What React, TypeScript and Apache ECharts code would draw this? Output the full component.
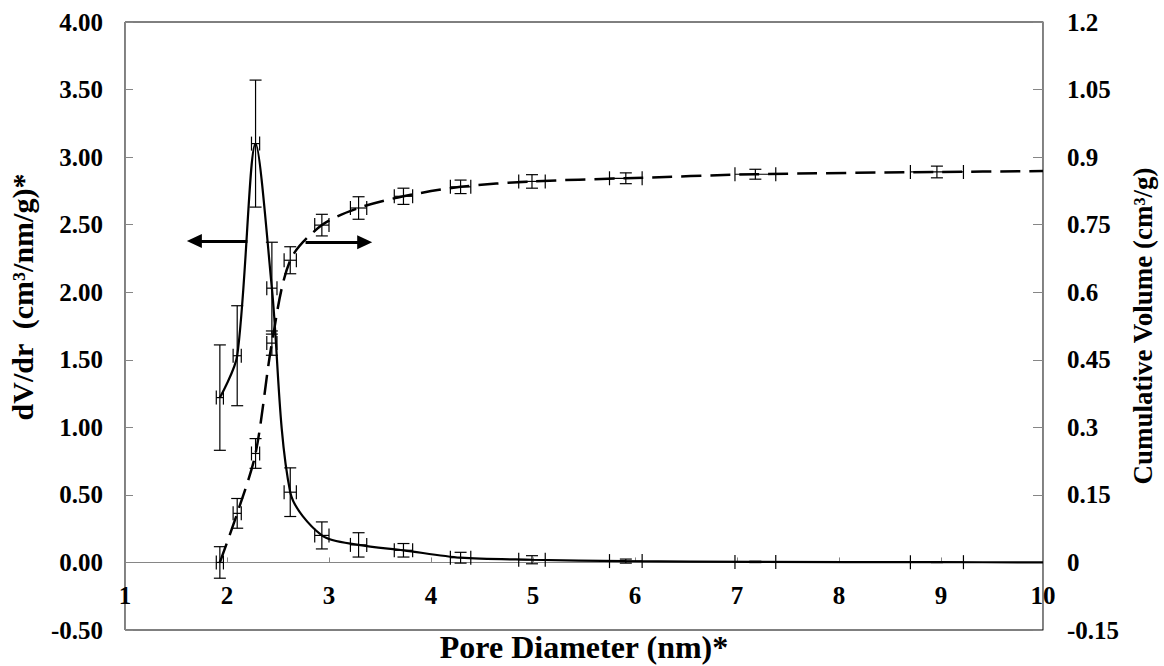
import React, { useEffect, useRef } from "react";
import * as echarts from "echarts";

// Pore diameter (nm) and its uncertainty
const poreDiameter = [1.93, 2.1, 2.28, 2.44, 2.62, 2.93, 3.29, 3.73, 4.29, 4.99, 5.91, 7.18, 8.96, 10.0];
const diameterErr = [0.035, 0.04, 0.04, 0.05, 0.06, 0.07, 0.08, 0.09, 0.1, 0.13, 0.16, 0.2, 0.26, 0];
// dV/dr (cm3/nm/g), left axis
const dvdr = [1.22, 1.53, 3.1, 2.03, 0.52, 0.2, 0.13, 0.09, 0.035, 0.02, 0.01, 0.004, 0.002, 0.001];
const dvdrErr = [0.39, 0.37, 0.47, 0.34, 0.18, 0.1, 0.09, 0.05, 0.04, 0.03, 0.015, 0.005, 0.003, 0];
// Cumulative volume (cm3/g), right axis
const cumVolume = [0.0, 0.109, 0.242, 0.487, 0.671, 0.749, 0.787, 0.813, 0.834, 0.846, 0.853, 0.862, 0.867, 0.869];
const cumVolumeErr = [0.035, 0.033, 0.033, 0.027, 0.03, 0.024, 0.025, 0.018, 0.015, 0.015, 0.012, 0.011, 0.013, 0];

// Annotation arrows (data space): [x from, x to, y]
const leftArrow = [2.2, 1.68, 2.38];
const rightArrow = [2.77, 3.35, 2.37];

const FONT = "Liberation Serif, Times New Roman, serif";
const GREY = "#868686";

function errRender(params: any, api: any) {
  const x = api.value(0);
  const y = api.value(1);
  const xe = api.value(2);
  const ye = api.value(3);
  if (!xe && !ye) return null;
  const top = api.coord([x, y + ye]);
  const bot = api.coord([x, y - ye]);
  const l = api.coord([x - xe, y]);
  const r = api.coord([x + xe, y]);
  const cw = 6;
  const ch = 7;
  const style = { stroke: "#000", lineWidth: 1.2 };
  const mk = (x1: number, y1: number, x2: number, y2: number) => ({
    type: "line",
    shape: { x1, y1, x2, y2 },
    style,
  });
  return {
    type: "group",
    children: [
      mk(top[0], top[1], bot[0], bot[1]),
      mk(top[0] - cw, top[1], top[0] + cw, top[1]),
      mk(bot[0] - cw, bot[1], bot[0] + cw, bot[1]),
      mk(l[0], l[1], r[0], r[1]),
      mk(l[0], l[1] - ch, l[0], l[1] + ch),
      mk(r[0], r[1] - ch, r[0], r[1] + ch),
    ],
  };
}

export default function App() {
  const ref = useRef<HTMLDivElement>(null);
  useEffect(() => {
    if (!ref.current) return;
    const chart = echarts.init(ref.current, undefined, { renderer: "svg" });
    const solidData = poreDiameter.map((x, i) => [x, dvdr[i]]);
    const dashData = poreDiameter.map((x, i) => [x, cumVolume[i]]);
    const solidErr = poreDiameter.map((x, i) => [x, dvdr[i], diameterErr[i], dvdrErr[i]]);
    const dashErr = poreDiameter.map((x, i) => [x, cumVolume[i], diameterErr[i], cumVolumeErr[i]]);
    const labelStyle = { fontFamily: FONT, fontWeight: "bold", color: "#000", fontSize: 25 };
    chart.setOption({
      animation: false,
      grid: {
        left: 125,
        right: 121,
        top: 22,
        bottom: 36,
        containLabel: false,
        outerBoundsMode: "none",
        show: true,
        borderColor: "#000",
        borderWidth: 1,
        backgroundColor: "transparent",
      },
      xAxis: {
        type: "value",
        min: 1,
        max: 10,
        interval: 1,
        axisLine: { onZero: true, lineStyle: { color: GREY, width: 1 } },
        axisTick: { inside: true, length: 5, lineStyle: { color: GREY } },
        splitLine: { show: false },
        axisLabel: { ...labelStyle, margin: -47 },
        name: "Pore Diameter (nm)*",
        nameLocation: "middle",
        nameGap: 1,
        nameTextStyle: { fontFamily: FONT, fontWeight: "bold", color: "#000", fontSize: 32 },
      },
      yAxis: [
        {
          type: "value",
          min: -0.5,
          max: 4,
          interval: 0.5,
          position: "left",
          axisLine: { show: true, onZero: false, lineStyle: { color: GREY, width: 1 } },
          axisTick: { show: true, inside: true, length: 8, lineStyle: { color: GREY } },
          splitLine: { show: false },
          axisLabel: { ...labelStyle, margin: 22, formatter: (v: number) => v.toFixed(2) },
          name: "dV/dr  (cm³/nm/g)*",
          nameLocation: "middle",
          nameRotate: 90,
          nameGap: 88,
          nameTextStyle: {
            fontFamily: FONT,
            fontWeight: "bold",
            color: "#000",
            fontSize: 30,
            padding: [0, 0, 0, 58],
          },
        },
        {
          type: "value",
          min: -0.15,
          max: 1.2,
          interval: 0.15,
          position: "right",
          axisLine: { show: true, onZero: false, lineStyle: { color: GREY, width: 1 } },
          axisTick: { show: true, inside: true, length: 10, lineStyle: { color: GREY } },
          splitLine: { show: false },
          axisLabel: {
            ...labelStyle,
            margin: 24,
            formatter: (v: number) => String(parseFloat(v.toFixed(2))),
          },
          name: "Cumulative Volume (cm³/g)",
          nameLocation: "middle",
          nameRotate: 90,
          nameGap: 85,
          nameTextStyle: { fontFamily: FONT, fontWeight: "bold", color: "#000", fontSize: 27 },
        },
      ],
      series: [
        {
          type: "line",
          name: "dV/dr",
          yAxisIndex: 0,
          data: solidData,
          smooth: 0.3,
          showSymbol: false,
          lineStyle: { color: "#000", width: 2.2 },
          z: 3,
          markLine: {
            silent: true,
            symbol: ["none", "triangle"],
            symbolSize: [14, 15],
            label: { show: false },
            lineStyle: { color: "#000", width: 3, type: "solid" },
            data: [
              [{ coord: [leftArrow[0], leftArrow[2]] }, { coord: [leftArrow[1], leftArrow[2]] }],
              [{ coord: [rightArrow[0], rightArrow[2]] }, { coord: [rightArrow[1], rightArrow[2]] }],
            ],
          },
        },
        {
          type: "line",
          name: "Cumulative Volume",
          yAxisIndex: 1,
          data: dashData,
          smooth: 0.3,
          showSymbol: false,
          lineStyle: { color: "#000", width: 2.5, type: [20, 9] },
          z: 3,
        },
        {
          type: "custom",
          yAxisIndex: 0,
          data: solidErr,
          renderItem: errRender,
          encode: { x: 0, y: 1 },
          clip: true,
          z: 4,
        },
        {
          type: "custom",
          yAxisIndex: 1,
          data: dashErr,
          renderItem: errRender,
          encode: { x: 0, y: 1 },
          clip: true,
          z: 4,
        },
      ],
    });
    return () => chart.dispose();
  }, []);
  return (
    <div
      ref={ref}
      style={{ position: "fixed", left: 0, top: 0, width: 1164, height: 666, background: "#fff" }}
    />
  );
}
